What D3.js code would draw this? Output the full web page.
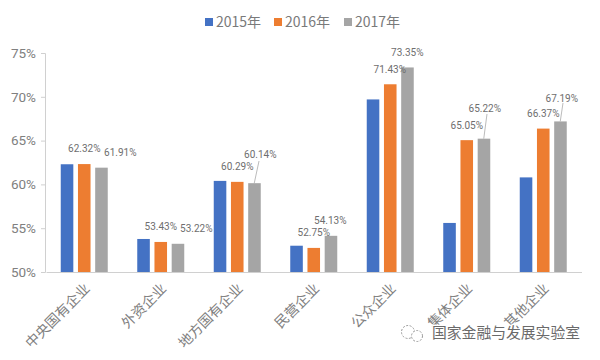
<!DOCTYPE html>
<html>
<head>
<meta charset="utf-8">
<script src="https://cdn.jsdelivr.net/npm/d3@7"></script>
<style>
    html, body { margin: 0; padding: 0; background: #fff; }
    svg { display: block; }
    text { font-family: "Noto Sans CJK SC", "Noto Sans", sans-serif; }
    .num { font-family: Roboto, "Noto Sans", sans-serif; }
    .domain { stroke: #d0d0d0; }
    .tick line { stroke: #d0d0d0; }
    .tick text { fill: #808080; }
</style>
</head>
<body>
<div id="chart"></div>
<script>
var categories = ['中央国有企业', '外资企业', '地方国有企业', '民营企业', '公众企业', '集体企业', '其他企业'];
var seriesNames = ['2015年', '2016年', '2017年'];
var values2015 = [62.3, 53.77, 60.4, 53.0, 69.7, 55.6, 60.8];
var values2016 = [62.32, 53.43, 60.29, 52.75, 71.43, 65.05, 66.37];
var values2017 = [61.91, 53.22, 60.14, 54.13, 73.35, 65.22, 67.19];
var yTicks = [50, 55, 60, 65, 70, 75];
var colors = ['#4472c4', '#ed7d31', '#a5a5a5'];

var width = 600, height = 360;
var svg = d3.select('#chart').append('svg')
    .attr('width', width)
    .attr('height', height);

var x = d3.scaleBand().domain(categories).range([46, 581.5]).padding(0);
var xInner = d3.scaleBand().domain(seriesNames).range([0, 47]).paddingInner(0.27).paddingOuter(0);
var y = d3.scaleLinear().domain([50, 75]).range([272, 53]);

// axes
svg.append('g')
    .attr('transform', 'translate(45,0)')
    .call(d3.axisLeft(y).tickValues(yTicks).tickSize(4).tickFormat(function(d) { return d + '%'; }))
    .call(function(g) { g.selectAll('text').attr('class', 'num').attr('font-size', 13.5).attr('x', -9); });

var xAxis = svg.append('g')
    .attr('transform', 'translate(0,272)')
    .call(d3.axisBottom(x).tickSize(0));
xAxis.selectAll('text')
    .attr('font-size', 14)
    .attr('text-anchor', 'end')
    .attr('transform', 'translate(3,14) rotate(-45)')
    .attr('dy', '0.35em')
    .attr('y', 0);

// bars
var series = [values2015, values2016, values2017];
series.forEach(function(vals, s) {
    svg.append('g').selectAll('rect')
        .data(vals)
        .enter().append('rect')
        .attr('x', function(d, i) { return x(categories[i]) + x.bandwidth() / 2 - 23.5 + xInner(seriesNames[s]); })
        .attr('y', function(d) { return y(d); })
        .attr('width', xInner.bandwidth())
        .attr('height', function(d) { return y(50) - y(d); })
        .attr('fill', colors[s]);
});

// data labels, hand-moved in the original so each has its own offset from the group centre
var labels2016 = [[0, 148], [0, 226], [0, 166], [0, 232], [-0.5, 69], [0, 125], [0, 113]];
var labels2017 = [[36, 152], [35.5, 228], [23, 154], [16.5, 220], [17, 52], [18, 108], [18.5, 98]];
function drawLabels(vals, pos) {
    svg.append('g').selectAll('text')
        .data(vals)
        .enter().append('text')
        .attr('class', 'num')
        .attr('x', function(d, i) { return x(categories[i]) + x.bandwidth() / 2 + pos[i][0]; })
        .attr('y', function(d, i) { return pos[i][1]; })
        .attr('dy', '0.35em')
        .attr('text-anchor', 'middle')
        .attr('font-size', 10)
        .attr('fill', '#6e6e6e')
        .text(function(d) { return d.toFixed(2) + '%'; });
}
drawLabels(values2016, labels2016);
drawLabels(values2017, labels2017);

// leader lines
var leaders = [[2, 259, 161], [5, 487, 114], [6, 563, 103]];
svg.append('g').selectAll('line')
    .data(leaders)
    .enter().append('line')
    .attr('x1', function(d) { return d[1]; })
    .attr('y1', function(d) { return d[2]; })
    .attr('x2', function(d) { return x(categories[d[0]]) + x.bandwidth() / 2 + 17; })
    .attr('y2', function(d) { return y(values2017[d[0]]); })
    .attr('stroke', '#aaa')
    .attr('stroke-width', 0.8);

// legend
var legendX = [205, 274, 344];
var legend = svg.append('g').selectAll('g')
    .data(seriesNames)
    .enter().append('g')
    .attr('transform', function(d, i) { return 'translate(' + legendX[i] + ',18)'; });
legend.append('rect')
    .attr('width', 8)
    .attr('height', 8)
    .attr('fill', function(d, i) { return colors[i]; });
legend.append('text')
    .attr('x', 11)
    .attr('y', 4)
    .attr('dy', '0.35em')
    .attr('font-size', 14)
    .attr('fill', '#7a7a7a')
    .text(function(d) { return d; });

// watermark
var mark = svg.append('g');
mark.append('text')
    .attr('x', 432)
    .attr('y', 333)
    .attr('dy', '0.35em')
    .attr('font-size', 14.8)
    .attr('fill', '#6a6a6a')
    .attr('stroke', '#fff')
    .attr('stroke-width', 2.5)
    .attr('paint-order', 'stroke')
    .text('国家金融与发展实验室');
mark.append('circle').attr('cx', 408).attr('cy', 332).attr('r', 6.5)
    .attr('fill', '#fff').attr('stroke', '#999').attr('stroke-dasharray', '2 1.5');
mark.append('circle').attr('cx', 417).attr('cy', 336).attr('r', 5.5)
    .attr('fill', '#fff').attr('stroke', '#999').attr('stroke-dasharray', '2 1.5');
</script>
</body>
</html>
